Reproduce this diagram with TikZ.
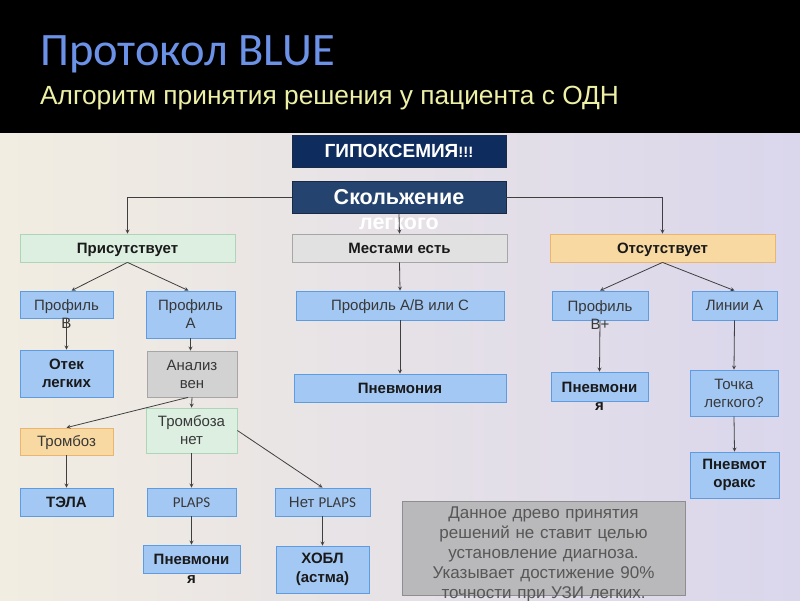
\documentclass[tikz,border=0pt]{standalone}
\usepackage{fontspec}
\setmainfont{Liberation Sans}
\newfontfamily\plapsfont{Carlito}
\definecolor{ProtoNavy}{HTML}{0E2C5E}
\definecolor{ProtoNavyLine}{HTML}{1A2A44}
\definecolor{ProtoSlate}{HTML}{24446F}
\definecolor{ProtoBlue}{HTML}{A4C8F4}
\definecolor{ProtoBlueLine}{HTML}{5E9CE2}
\definecolor{ProtoGreen}{HTML}{DCEFE1}
\definecolor{ProtoGreenLine}{HTML}{AFD5B8}
\definecolor{ProtoGray}{HTML}{E1E1E1}
\definecolor{ProtoGrayDark}{HTML}{D2D2D2}
\definecolor{ProtoGrayLine}{HTML}{A6A6A6}
\definecolor{ProtoOrange}{HTML}{F8D9A2}
\definecolor{ProtoOrangeLine}{HTML}{EAB570}
\definecolor{ProtoArrow}{HTML}{3F3F3F}
\definecolor{ProtoTitle}{HTML}{6C92E8}
\definecolor{ProtoSub}{HTML}{EEF0A6}
\definecolor{ProtoBgLeft}{HTML}{F2EDE1}
\definecolor{ProtoBgRight}{HTML}{DAD6EC}
\definecolor{ProtoNote}{HTML}{B9B8BA}
\definecolor{ProtoNoteLine}{HTML}{8E8E8E}
\definecolor{ProtoNoteText}{HTML}{575757}

\begin{document}
\begin{tikzpicture}[x=1pt,y=-1pt,>=stealth]
  \tikzstyle{pbox}=[rectangle,inner sep=0pt,align=center,line width=0.8pt]
  \tikzstyle{oneline}=[text height=10.5pt,text depth=0pt]
  \tikzstyle{bluebox}=[pbox,draw=ProtoBlueLine,fill=ProtoBlue]
  \tikzstyle{boldtext}=[font=\bfseries\fontsize{15}{18.5}\selectfont,text=black!90]
  \tikzstyle{plaintext}=[font=\fontsize{15}{18}\selectfont,text=black!78]
  \tikzstyle{link}=[->,draw=ProtoArrow,line width=0.8pt]
  \useasboundingbox (0,0) rectangle (800,600);
  \fill[left color=ProtoBgLeft,right color=ProtoBgRight] (0,133) rectangle (800,600);
  \fill[black] (0,0) rectangle (800,133);

  \node[anchor=base west,inner sep=0pt,text=ProtoTitle,font=\plapsfont\fontsize{46.5}{52}\selectfont] (title) at (40,65) {Протокол BLUE};
  \node[anchor=base west,inner sep=0pt,text=ProtoSub,font=\fontsize{26.3}{30}\selectfont] (subtitle) at (40,104) {Алгоритм принятия решения у пациента с ОДН};

  \node[pbox,draw=ProtoNavyLine,fill=ProtoNavy,minimum width=214pt,minimum height=32pt,text height=13.5pt,text depth=0pt,text=white,font=\bfseries\fontsize{19}{22}\selectfont] (hypox) at (399,151) {ГИПОКСЕМИЯ{\fontsize{15}{16}\selectfont!!!}};
  \node[pbox,draw=ProtoNavyLine,fill=ProtoSlate,minimum width=214pt,minimum height=32pt,text width=210pt,text height=15pt,text depth=0pt,text=white,font=\bfseries\fontsize{21.5}{25}\selectfont] (slide) at (399,197) {Скольжение\\легкого};

  \node[pbox,oneline,draw=ProtoGreenLine,fill=ProtoGreen,boldtext,minimum width=215pt,minimum height=28pt] (present) at (127.5,248) {Присутствует};
  \node[pbox,oneline,draw=ProtoGrayLine,fill=ProtoGray,boldtext,minimum width=215pt,minimum height=28pt] (partly) at (399.5,248) {Местами есть};
  \node[pbox,oneline,draw=ProtoOrangeLine,fill=ProtoOrange,boldtext,minimum width=225pt,minimum height=28pt] (absent) at (662.5,248) {Отсутствует};

  \node[bluebox,plaintext,minimum width=93pt,minimum height=27pt,text width=90pt,text height=11pt,text depth=0pt] (profB) at (66.5,304.5) {Профиль\\В};
  \node[bluebox,plaintext,minimum width=89pt,minimum height=47pt] (profA) at (190.5,314.5) {Профиль\\А};
  \node[bluebox,oneline,plaintext,minimum width=208pt,minimum height=29pt] (profABC) at (400,305.5) {Профиль А/В или С};
  \node[bluebox,plaintext,minimum width=96pt,minimum height=29pt,text width=92pt,text height=11pt,text depth=0pt] (profBplus) at (600,305.5) {Профиль\\В+};
  \node[bluebox,oneline,plaintext,minimum width=85pt,minimum height=29pt] (linesA) at (734.5,305.5) {Линии А};

  \node[bluebox,boldtext,minimum width=93pt,minimum height=47pt] (edema) at (66.5,373.5) {Отек\\легких};
  \node[pbox,draw=ProtoGrayLine,fill=ProtoGrayDark,plaintext,minimum width=90pt,minimum height=46pt] (veins) at (192,374) {Анализ\\вен};
  \node[bluebox,oneline,boldtext,minimum width=212pt,minimum height=28pt] (pneuMid) at (400,388) {Пневмония};
  \node[bluebox,boldtext,minimum width=97pt,minimum height=29pt,text width=94pt,text height=11pt,text depth=0pt] (pneuRight) at (599.5,386.5) {Пневмони\\я};
  \node[bluebox,plaintext,minimum width=88pt,minimum height=46pt] (lungPoint) at (734,393) {Точка\\легкого?};

  \node[pbox,oneline,draw=ProtoOrangeLine,fill=ProtoOrange,plaintext,minimum width=93pt,minimum height=27pt] (thromb) at (66.5,441.5) {Тромбоз};
  \node[pbox,draw=ProtoGreenLine,fill=ProtoGreen,plaintext,minimum width=91pt,minimum height=45pt] (noThromb) at (191.5,430.5) {Тромбоза\\нет};
  \node[bluebox,boldtext,minimum width=89pt,minimum height=46pt] (pneumothorax) at (734.5,475) {Пневмот\\оракс};

  \node[bluebox,oneline,boldtext,minimum width=93pt,minimum height=28pt] (tela) at (66.5,502) {ТЭЛА};
  \node[bluebox,oneline,plaintext,minimum width=89pt,minimum height=28pt] (plaps) at (191.5,502) {\plapsfont PLAPS};
  \node[bluebox,oneline,plaintext,minimum width=95pt,minimum height=28pt] (noPlaps) at (322.5,502) {Нет {\plapsfont PLAPS}};
  \node[bluebox,boldtext,minimum width=97pt,minimum height=28pt,text width=94pt,text height=11pt,text depth=0pt] (pneuLow) at (191.5,559) {Пневмони\\я};
  \node[bluebox,boldtext,minimum width=93pt,minimum height=47pt] (copd) at (322.5,569.5) {ХОБЛ\\(астма)};

  \node[pbox,draw=ProtoNoteLine,fill=ProtoNote,text=ProtoNoteText,font=\fontsize{17}{20}\selectfont,minimum width=283pt,minimum height=94pt,text width=280pt,text height=0pt,text depth=60pt] (note) at (543.5,548) {Данное древо принятия\\решений не ставит целью\\установление диагноза.\\Указывает достижение 90\%\\точности при УЗИ легких.};

  \draw[link] (slide.west) -| (present.north);
  \draw[link] (slide.east) -| (absent.north);
  \draw[link] (slide.south) -- (partly.north);
  \draw[link] (present.south) -- ([xshift=5pt]profB.north);
  \draw[link] (present.south) -- ([xshift=-2pt]profA.north);
  \draw[link] (partly.south) -- (profABC.north);
  \draw[link] (absent.south) -- (profBplus.north);
  \draw[link] (absent.south) -- (linesA.north);
  \draw[link] (profB.south) -- (edema.north);
  \draw[link] (profA.south) -- (profA.south |- veins.north);
  \draw[link] (profABC.south) -- (pneuMid.north);
  \draw[link] (profBplus.south) -- (pneuRight.north);
  \draw[link] (linesA.south) -- (lungPoint.north);
  \draw[link] (veins.south) -- (noThromb.north);
  \draw[link] ([xshift=-4pt]veins.south) -- (thromb.north);
  \draw[link] (noThromb.east) -- (noPlaps.north);
  \draw[link] (noThromb.south) -- (plaps.north);
  \draw[link] (thromb.south) -- (tela.north);
  \draw[link] (plaps.south) -- (pneuLow.north);
  \draw[link] (noPlaps.south) -- (copd.north);
  \draw[link] (lungPoint.south) -- (pneumothorax.north);
\end{tikzpicture}
\end{document}
